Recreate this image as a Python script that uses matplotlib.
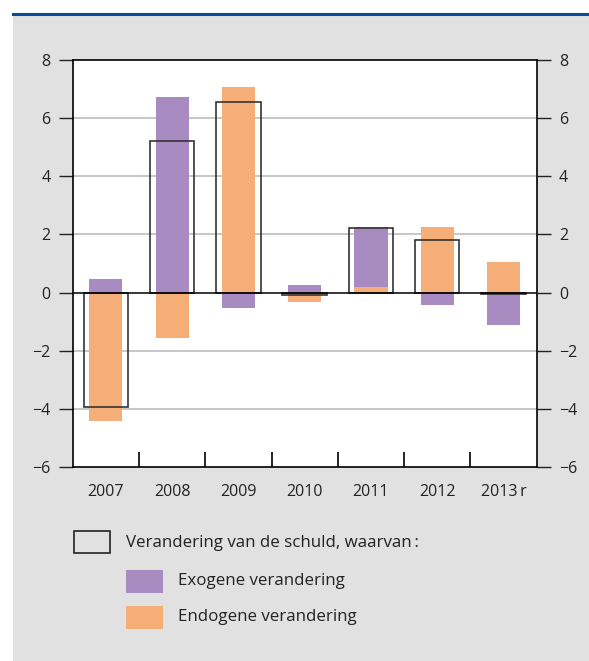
import matplotlib
matplotlib.use("Agg")
import matplotlib.pyplot as plt
from matplotlib.patches import Rectangle
from matplotlib.lines import Line2D
import numpy as np

plt.rcParams['font.family'] = ['Open Sans', 'DejaVu Sans']
plt.rcParams['axes.unicode_minus'] = True

categories = ["2007", "2008", "2009", "2010", "2011", "2012", "2013\u2009r"]
exogeen = [0.47, 6.73, -0.52, 0.26, 2.08, -0.42, -1.11]
endogeen = [-4.42, -1.55, 7.07, -0.32, 0.19, 2.26, 1.05]
schuld = [-3.92, 5.21, 6.57, -0.08, 2.23, 1.82, -0.04]
yticks = [-6, -4, -2, 0, 2, 4, 6, 8]

purple = "#a88bc1"
orange = "#f6ae79"
bg = "#e1e1e1"
txt = "#222222"

fig = plt.figure(figsize=(5.89, 6.61), dpi=100)
fig.patch.set_facecolor("white")
# grey panel and blue top rule
panel = Rectangle((13/589, 0), 1 - 13/589, 1 - 15/661, transform=fig.transFigure,
                  facecolor=bg, edgecolor="none", zorder=-10)
fig.add_artist(panel)
fig.add_artist(Line2D([13/589, 1], [1 - 14/661, 1 - 14/661], transform=fig.transFigure,
                      color="#0b4c95", linewidth=2.2, zorder=-5))

ax = fig.add_axes([72.7/589, 1 - 467/661, 464/589, 407/661])
ax.set_zorder(5)
ax.set_facecolor("white")
x = np.arange(len(categories))

# stacking: endogeen first, exogeen on top when signs agree
exo = np.array(exogeen)
endo = np.array(endogeen)
exo_bottom = np.where(np.sign(exo) == np.sign(endo), endo, 0.0)

for y in yticks:
    if y not in (0, 8, -6):
        ax.axhline(y, color="#bdbdbd", linewidth=1.2, zorder=1)

ax.bar(x, endo, width=0.5, color=orange, zorder=2)
ax.bar(x, exo, width=0.5, bottom=exo_bottom, color=purple, zorder=2)
ax.bar(x, schuld, width=0.67, facecolor="none", edgecolor="#333333", linewidth=1.2, zorder=3)
ax.axhline(0, color="black", linewidth=1.1, zorder=4)

ax.set_xlim(-0.5, len(categories) - 0.5)
ax.set_ylim(-6, 8)
ax.set_yticks(yticks)
ax.set_yticklabels([f"{v:d}".replace("-", "\u2212") for v in yticks])
ax.tick_params(axis="y", which="major", direction="out", length=10, width=1,
               left=True, right=True, labelleft=True, labelright=True,
               labelsize=11.5, colors=txt, pad=6)
ax.set_xticks(x)
ax.set_xticklabels(categories)
ax.tick_params(axis="x", which="major", length=0, labelsize=11.5, colors=txt, pad=12)
ax.set_xticks(np.arange(0.5, len(categories) - 1, 1.0), minor=True)
ax.tick_params(axis="x", which="minor", direction="in", length=11, width=1.2, color="black")
for s in ax.spines.values():
    s.set_color("black")
    s.set_linewidth(1.2)

# legend
def fx(px):
    return px / 589
def fy(py):
    return 1 - py / 661

fig.add_artist(Rectangle((fx(73.5), fy(552.5)), fx(36.5), 21.5/661, transform=fig.transFigure,
                         facecolor="none", edgecolor="#222222", linewidth=1.2))
fig.text(fx(126.5), fy(543), "Verandering van de schuld, waarvan\u2009:", fontsize=12.2,
         color=txt, va="center", ha="left")
fig.add_artist(Rectangle((fx(126), fy(592.5)), fx(37), 22.5/661, transform=fig.transFigure,
                         facecolor=purple, edgecolor="none"))
fig.text(fx(178), fy(581), "Exogene verandering", fontsize=12.2, color=txt, va="center", ha="left")
fig.add_artist(Rectangle((fx(126), fy(628.5)), fx(37), 22.5/661, transform=fig.transFigure,
                         facecolor=orange, edgecolor="none"))
fig.text(fx(178), fy(617), "Endogene verandering", fontsize=12.2, color=txt, va="center", ha="left")

fig.savefig("out.png", dpi=100, facecolor=fig.get_facecolor())
